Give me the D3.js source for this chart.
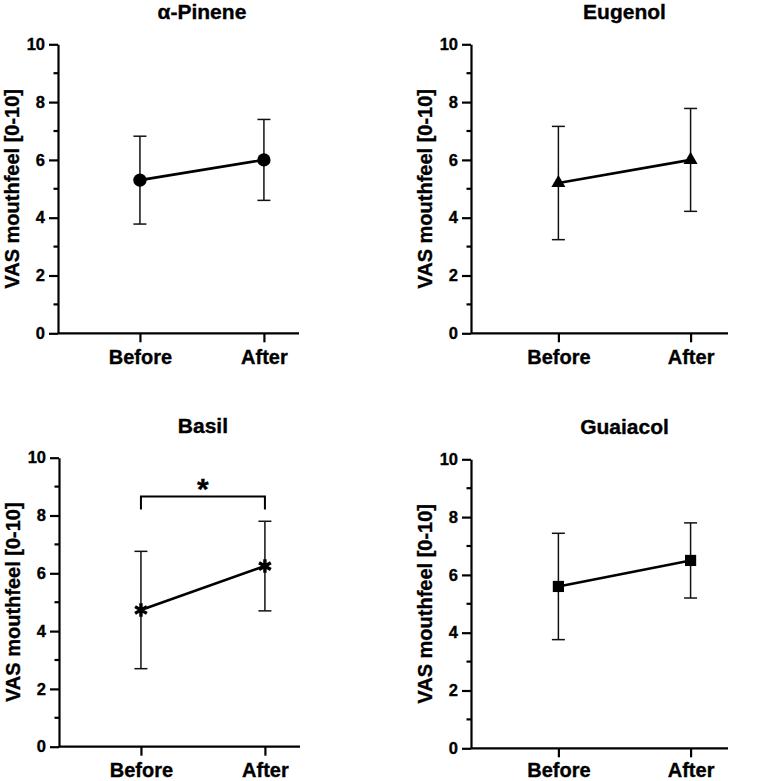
<!DOCTYPE html>
<html>
<head>
<meta charset="utf-8">
<script src="https://cdn.jsdelivr.net/npm/d3@7"></script>
<style>
  body { margin: 0; background: #fff; }
  text { font-family: "Liberation Sans", Arial, sans-serif; font-weight: bold; fill: #000; stroke: #000; stroke-width: 0.35px; }
</style>
</head>
<body>
<div id="chart"></div>
<script>
// data
var categories = ["Before", "After"];
var titles = ["α-Pinene", "Eugenol", "Basil", "Guaiacol"];
var means = [[5.3, 6.0], [5.2, 6.0], [4.73, 6.25], [5.6, 6.5]];
var sds = [[1.52, 1.4], [1.96, 1.78], [2.03, 1.55], [1.84, 1.3]];
var markers = ["circle", "triangle", "asterisk", "square"];
var yTicks = [0, 2, 4, 6, 8, 10];
var yMinor = [1, 3, 5, 7, 9];
var sigBracket = { panel: 2, y: 8.66, leg: 8.21, label: "*" };

var svg_w = 762, svg_h = 781;

// panel boxes (left axis x, right end, top of 10, bottom at 0, label offset)
var layout = [
  { x0: 58, x1: 299, y0: 44.3, y1: 333.3, lab: 31 },
  { x0: 471, x1: 728, y0: 44.3, y1: 333.3, lab: 31 },
  { x0: 59, x1: 300, y0: 457.7, y1: 746.7, lab: 30 },
  { x0: 471, x1: 728, y0: 459.3, y1: 748.3, lab: 28.5 }
];

var svg = d3.select("#chart").append("svg")
      .attr("width", svg_w)
      .attr("height", svg_h);

titles.forEach(function(title, p) {
  var L = layout[p];
  var g = svg.append("g");

  var xScale = d3.scaleLinear()
        .domain([-0.661, 1.283])
        .range([L.x0, L.x1]);
  var yScale = d3.scaleLinear()
        .domain([0, 10])
        .range([L.y1, L.y0]);

  var pts = categories.map(function(c, i) {
    return { cat: c, i: i, m: means[p][i], sd: sds[p][i] };
  });

  // y axis with minor ticks
  var yAxis = d3.axisLeft(yScale)
        .tickValues(yTicks)
        .tickSize(9)
        .tickSizeOuter(0)
        .tickPadding(4)
        .tickFormat(d3.format("d"));
  var ya = g.append("g")
        .attr("transform", "translate(" + L.x0 + ",0)")
        .call(yAxis);
  ya.selectAll(".minor")
        .data(yMinor)
        .enter()
        .append("line")
        .attr("class", "minor")
        .attr("x1", -4.5)
        .attr("x2", 0)
        .attr("y1", function(d) { return yScale(d); })
        .attr("y2", function(d) { return yScale(d); })
        .attr("stroke", "#000");

  // x axis
  var xAxis = d3.axisBottom(xScale)
        .tickValues([0, 1])
        .tickSize(9)
        .tickSizeOuter(0)
        .tickPadding(0)
        .tickFormat(function(d) { return categories[d]; });
  var xa = g.append("g")
        .attr("transform", "translate(0," + L.y1 + ")")
        .call(xAxis);

  g.selectAll(".domain, .tick line, .minor")
        .attr("stroke", "#000")
        .attr("stroke-width", 2.2);
  ya.selectAll("text").style("font-size", "16.5px");
  xa.selectAll("text")
        .style("font-size", "20px")
        .attr("y", L.lab)
        .attr("dy", null);
  // the x axis line runs from the y axis to the panel end
  xa.select(".domain").attr("d", "M" + L.x0 + ",0H" + L.x1);

  // title, centred over the two categories
  g.append("text")
    .attr("x", (xScale(0) + xScale(1)) / 2)
    .attr("y", L.y0 - 25)
    .attr("text-anchor", "middle")
    .style("font-size", "21px")
    .text(title);

  // y label
  g.append("text")
    .attr("transform", "translate(" + (L.x0 - 39) + "," + ((L.y0 + L.y1) / 2) + ") rotate(-90)")
    .attr("text-anchor", "middle")
    .style("font-size", "20px")
    .text("VAS mouthfeel [0-10]");

  // error bars
  var bars = g.selectAll(".err")
        .data(pts)
        .enter()
        .append("g")
        .attr("class", "err")
        .attr("stroke", "#111")
        .attr("stroke-width", 1.5);
  bars.append("line")
        .attr("x1", function(d) { return xScale(d.i); })
        .attr("x2", function(d) { return xScale(d.i); })
        .attr("y1", function(d) { return yScale(d.m - d.sd); })
        .attr("y2", function(d) { return yScale(d.m + d.sd); });
  [-1, 1].forEach(function(s) {
    bars.append("line")
        .attr("x1", function(d) { return xScale(d.i) - 6.5; })
        .attr("x2", function(d) { return xScale(d.i) + 6.5; })
        .attr("y1", function(d) { return yScale(d.m + s * d.sd); })
        .attr("y2", function(d) { return yScale(d.m + s * d.sd); });
  });

  // connecting line
  var line = d3.line()
        .x(function(d) { return xScale(d.i); })
        .y(function(d) { return yScale(d.m); });
  g.append("path")
    .datum(pts)
    .attr("d", line)
    .attr("fill", "none")
    .attr("stroke", "#000")
    .attr("stroke-width", 2.6);

  // markers
  var mk = markers[p];
  var sym = mk == "circle" ? d3.symbol(d3.symbolCircle, 140)
          : mk == "triangle" ? d3.symbol(d3.symbolTriangle, 85)
          : mk == "square" ? d3.symbol(d3.symbolSquare, 125)
          : d3.symbol(d3.symbolAsterisk, 130);
  g.selectAll(".pt")
    .data(pts)
    .enter()
    .append("path")
    .attr("class", "pt")
    .attr("d", sym)
    .attr("transform", function(d) { return "translate(" + xScale(d.i) + "," + yScale(d.m) + ")"; })
    .attr("fill", mk == "asterisk" ? "none" : "#000")
    .attr("stroke", mk == "asterisk" ? "#000" : "none")
    .attr("stroke-width", 3.4);

  // significance bracket
  if (sigBracket.panel == p) {
    var bx0 = xScale(0), bx1 = xScale(1);
    g.append("path")
      .attr("d", "M" + bx0 + "," + yScale(sigBracket.leg) +
                 "V" + yScale(sigBracket.y) +
                 "H" + bx1 +
                 "V" + yScale(sigBracket.leg))
      .attr("fill", "none")
      .attr("stroke", "#000")
      .attr("stroke-width", 2);
    g.append("text")
      .attr("x", (bx0 + bx1) / 2)
      .attr("y", yScale(sigBracket.y) + 3)
      .attr("text-anchor", "middle")
      .style("font-size", "30px")
      .text(sigBracket.label);
  }
});
</script>
</body>
</html>
